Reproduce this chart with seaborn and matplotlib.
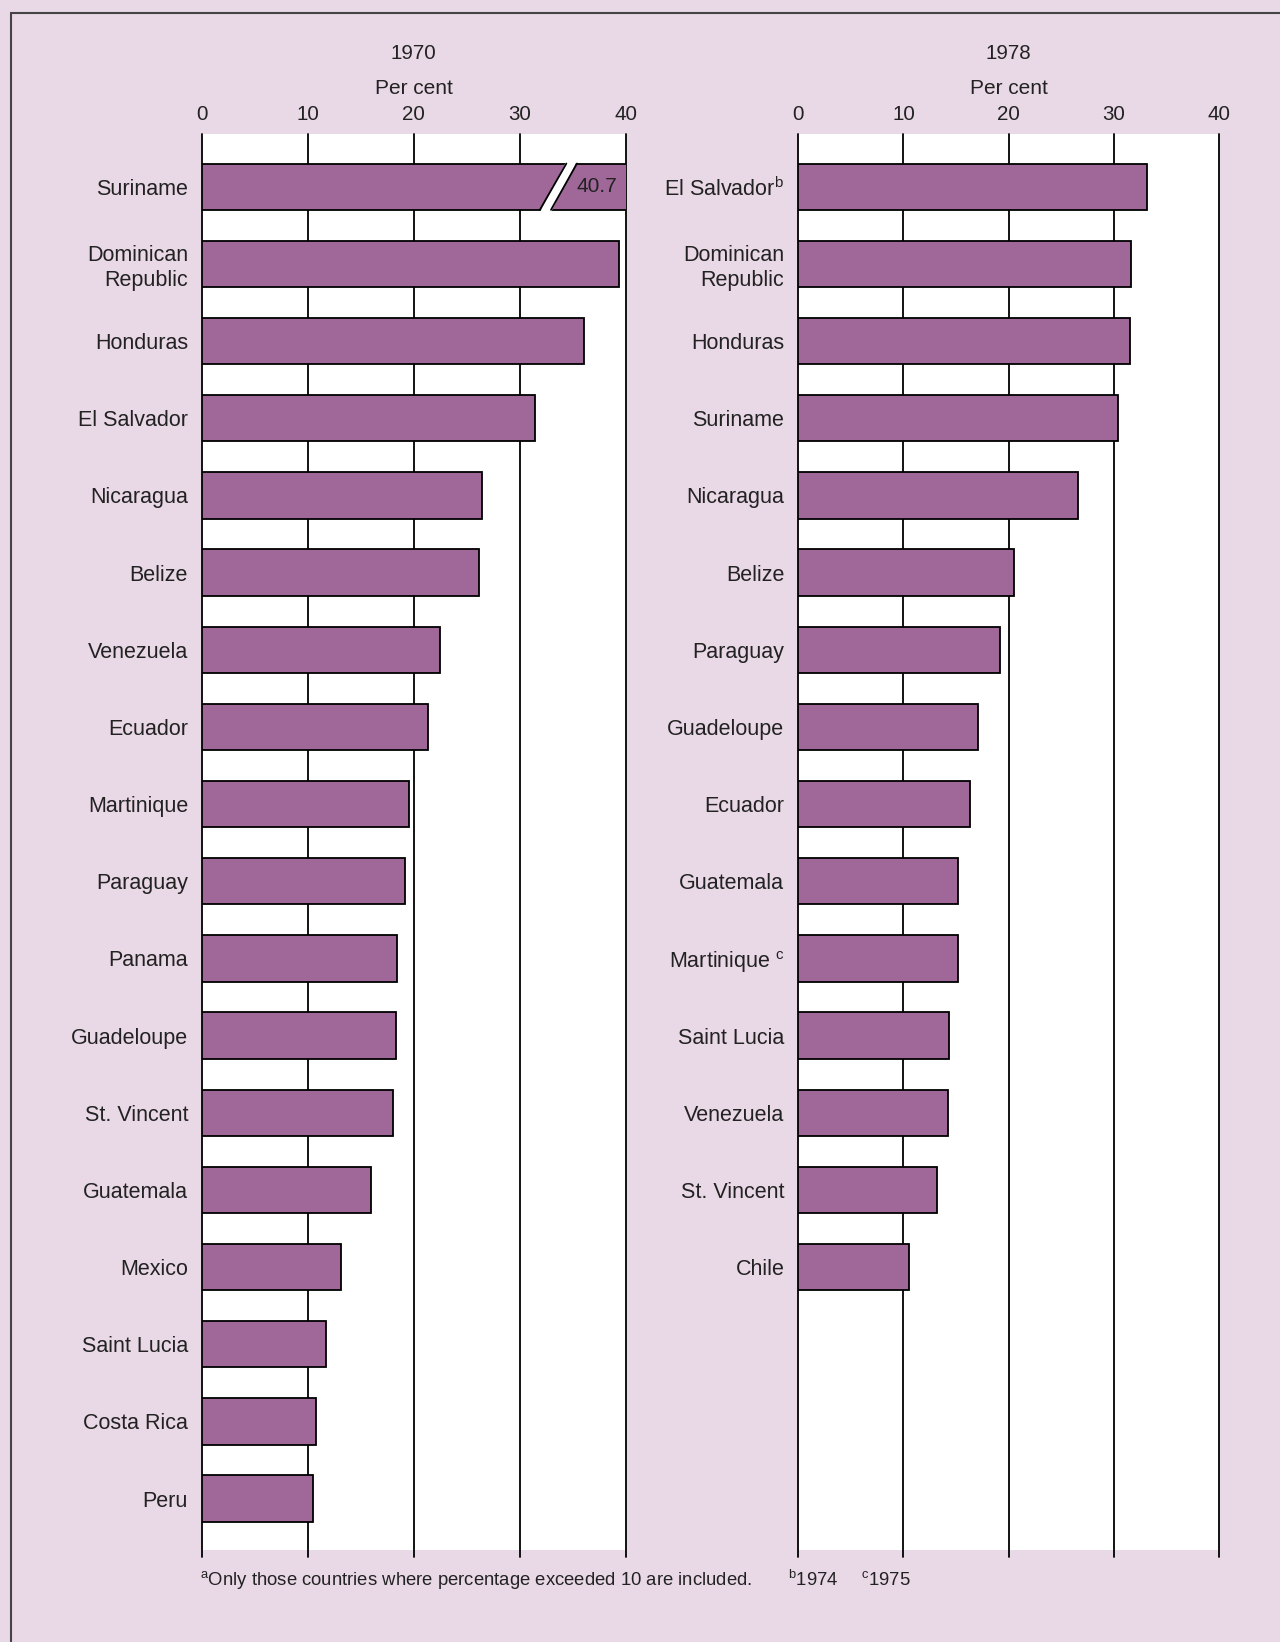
import seaborn as sns
import matplotlib.pyplot as plt
from matplotlib.patches import Polygon
from matplotlib.lines import Line2D

# data (per cent)
countries_1970 = ["Suriname", "Dominican\nRepublic", "Honduras", "El Salvador", "Nicaragua",
                  "Belize", "Venezuela", "Ecuador", "Martinique", "Paraguay", "Panama",
                  "Guadeloupe", "St. Vincent", "Guatemala", "Mexico", "Saint Lucia",
                  "Costa Rica", "Peru"]
values_1970 = [40.7, 39.4, 36.1, 31.4, 26.4, 26.2, 22.5, 21.3, 19.5, 19.2, 18.4,
               18.3, 18.0, 16.0, 13.1, 11.7, 10.8, 10.5]

countries_1978 = ["El Salvador$^{\\mathrm{b}}$", "Dominican\nRepublic", "Honduras", "Suriname",
                  "Nicaragua", "Belize", "Paraguay", "Guadeloupe", "Ecuador", "Guatemala",
                  "Martinique $^{\\mathrm{c}}$", "Saint Lucia", "Venezuela", "St. Vincent", "Chile"]
values_1978 = [33.1, 31.6, 31.5, 30.4, 26.6, 20.5, 19.2, 17.1, 16.3, 15.2, 15.2,
               14.3, 14.2, 13.2, 10.5]

ticks = [0, 10, 20, 30, 40]

BG = "#e9d8e6"
BAR = "#9f6899"
INK = "#222222"

sns.set_style("white")
plt.rcParams["font.family"] = ["Liberation Sans", "DejaVu Sans"]
plt.rcParams["mathtext.fontset"] = "custom"
plt.rcParams["mathtext.rm"] = "Liberation Sans"
plt.rcParams["mathtext.it"] = "Liberation Sans:italic"

fig = plt.figure(figsize=(12.8, 16.42), dpi=100, facecolor=BG)
bottom, height = 0.0560, 0.8624
ax1 = fig.add_axes([0.1578, bottom, 0.3310, height])
ax2 = fig.add_axes([0.6236, bottom, 0.3290, height])


def panel(ax, names, vals, year):
    sns.barplot(x=vals, y=names, orient="h", color=BAR, saturation=1, width=0.6,
                edgecolor="black", linewidth=1.3, ax=ax, zorder=2)
    ax.set_facecolor("white")
    ax.set_xlim(0, 40)
    ax.set_ylim(17.667, -0.683)
    for t in ticks:
        ax.axvline(t, ymin=-0.005, ymax=1, color="black", lw=1.3, zorder=1, clip_on=False)
    for s in ax.spines.values():
        s.set_visible(False)
    ax.xaxis.tick_top()
    ax.set_xticks(ticks)
    ax.set_xticklabels([str(t) for t in ticks])
    ax.tick_params(axis="x", length=0, pad=7, labelsize=14.8, colors=INK)
    ax.tick_params(axis="y", length=0, pad=10, labelsize=15.5, colors=INK)
    for lab in ax.get_yticklabels():
        lab.set_linespacing(1.25)
    ax.set_xlabel("")
    ax.set_ylabel("")
    ax.text(0.5, 1.0318, "Per cent", transform=ax.transAxes, ha="center", va="center",
            fontsize=15, color=INK)
    ax.text(0.5, 1.0569, year, transform=ax.transAxes, ha="center", va="center",
            fontsize=14.8, color=INK)


panel(ax1, countries_1970, values_1970, "1970")
panel(ax2, countries_1978, values_1978, "1978")

# break mark on the Suriname bar
yb, yt = 0.33, -0.33
ax1.add_patch(Polygon([(31.9, yb), (32.95, yb), (35.4, yt), (34.4, yt)], closed=True,
                      facecolor="white", edgecolor="none", zorder=3))
ax1.add_line(Line2D([31.9, 34.4], [0.3, -0.3], color="black", lw=1.3, zorder=4))
ax1.add_line(Line2D([32.95, 35.4], [0.3, -0.3], color="black", lw=1.3, zorder=4))
ax1.text(37.3, 0, "40.7", ha="center", va="center", fontsize=15, color=INK, zorder=5)

# footnotes
fig.text(0.1563, 0.0378, "$^{\\mathrm{a}}$Only those countries where percentage exceeded 10 are included.",
         ha="left", va="center", fontsize=13.3, color=INK)
fig.text(0.6156, 0.0378, "$^{\\mathrm{b}}$1974", ha="left", va="center", fontsize=13.3, color=INK)
fig.text(0.6730, 0.0378, "$^{\\mathrm{c}}$1975", ha="left", va="center", fontsize=13.3, color=INK)

# frame lines (top and left)
fig.add_artist(Line2D([0.0086, 1.0], [0.992, 0.992], color="#444444", lw=1.5))
fig.add_artist(Line2D([0.0086, 0.0086], [0.992, 0.0], color="#444444", lw=1.5))

fig.savefig("out.png", dpi=100, facecolor=BG)
